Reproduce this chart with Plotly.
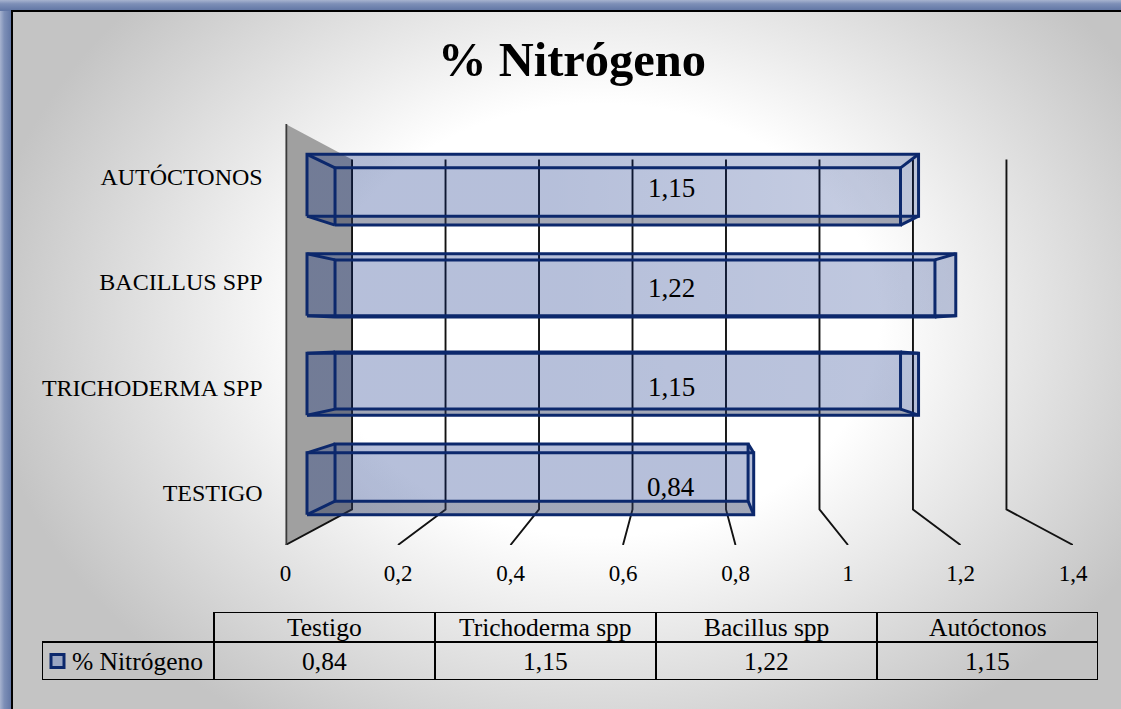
import base64
import plotly.graph_objects as go

# ---------------- data ----------------
treatments = ["Testigo", "Trichoderma spp", "Bacillus spp", "Autóctonos"]
nitrogen_pct = [0.84, 1.15, 1.22, 1.15]
series_name = "% Nitrógeno"
value_ticks = [0, 0.2, 0.4, 0.6, 0.8, 1.0, 1.2, 1.4]

# ---------------- layout constants ----------------
W, H = 1121, 709
FONT = "Liberation Serif, Times New Roman, serif"
NAVY = "#0c286c"

# front plane of the 3-D box (pixels) -> value axis 0..1.4, category band
FRONT_X = (285.5, 1073.0)
FRONT_Y = (124.0, 545.0)
VMAX = 1.4
N = len(treatments)

# perspective: vanishing point (data units) and depth scale factors
V_VP, C_VP = 0.70, (N - 1) / 2
K_BACK = 0.831          # back wall
S_BAR_FRONT = 0.9454    # front face of bars
S_BAR_BACK = 0.8742     # rear face of bars
HALF = 0.311            # half bar thickness (category units)


def proj(v, c, s):
    """Project a point at depth factor s onto the front plane axes."""
    return V_VP + (v - V_VP) * s, C_VP + (c - C_VP) * s


def fmt_val(v):
    return f"{v:.2f}".replace(".", ",")


def fmt_tick(v):
    return f"{v:g}".replace(".", ",")


fig = go.Figure()


def poly(pts, fill, gradient=None, xa="x", ya="y"):
    xs = [p[0] for p in pts] + [pts[0][0]]
    ys = [p[1] for p in pts] + [pts[0][1]]
    kw = {}
    if gradient is not None:
        kw["fillgradient"] = gradient
    fig.add_trace(go.Scatter(
        x=xs, y=ys, mode="lines", fill="toself", fillcolor=fill,
        line=dict(color="rgba(0,0,0,0)", width=0),
        hoverinfo="skip", showlegend=False, xaxis=xa, yaxis=ya, **kw))


def path(pts, color, width, xa="x", ya="y"):
    fig.add_trace(go.Scatter(
        x=[p[0] if p else None for p in pts],
        y=[p[1] if p else None for p in pts],
        mode="lines", line=dict(color=color, width=width),
        hoverinfo="skip", showlegend=False, xaxis=xa, yaxis=ya,
        connectgaps=False))


c_lo, c_hi = -0.5, N - 0.5

# ---- side wall (value 0 plane) ----
poly([proj(0, c_lo, 1), proj(0, c_hi, 1), proj(0, c_hi, K_BACK), proj(0, c_lo, K_BACK)],
     "#a0a0a0")

# ---- gridlines: up the back wall, then across the floor to the front ----
grid_pts = []
for v in value_ticks:
    grid_pts += [proj(v, c_hi, K_BACK), proj(v, c_lo, K_BACK), proj(v, c_lo, 1), None]
path(grid_pts, "#121212", 1.9)

# thick front edge of the side wall
path([proj(0, c_lo, 1), proj(0, c_hi, 1)], "#3a3a3a", 3.5)

# ---- 3-D bars ----
RGB = "0,35,125"
ALPHA = 0.155
FACE = f"rgba({RGB},{ALPHA})"
UNDER = "rgba(70,70,80,0.34)"
for i, val in enumerate(nitrogen_pct):
    lo, hi = i - HALF, i + HALF
    sb, sf = S_BAR_BACK, S_BAR_FRONT
    back = [proj(0, lo, sb), proj(val, lo, sb), proj(val, hi, sb), proj(0, hi, sb)]
    front = [proj(0, lo, sf), proj(val, lo, sf), proj(val, hi, sf), proj(0, hi, sf)]
    bottom = [proj(0, lo, sb), proj(val, lo, sb), proj(val, lo, sf), proj(0, lo, sf)]
    top = [proj(0, hi, sb), proj(val, hi, sb), proj(val, hi, sf), proj(0, hi, sf)]
    left = [proj(0, lo, sb), proj(0, hi, sb), proj(0, hi, sf), proj(0, lo, sf)]
    right = [proj(val, lo, sb), proj(val, hi, sb), proj(val, hi, sf), proj(val, lo, sf)]
    poly(back, FACE)
    poly(bottom, UNDER)
    poly(top, FACE)
    poly(left, FACE)
    poly(right, FACE)
    # front face catches more light the higher the bar sits (light from upper right)
    fade = ALPHA * (1 - 0.18 * i)
    shade = dict(type="horizontal", start=front[0][0], stop=front[1][0],
                 colorscale=[[0, FACE], [0.4, FACE], [1, f"rgba({RGB},{fade:.3f})"]])
    poly(front, FACE, gradient=shade)
    edges = []
    for face in (back, front):
        edges += face + [face[0], None]
    for k in range(4):
        edges += [back[k], front[k], None]
    path(edges, NAVY, 3.0)

    lx, ly = proj(V_VP, i, S_BAR_FRONT)
    fig.add_annotation(x=lx - 0.014, y=ly, xref="x", yref="y", text=fmt_val(val),
                       yshift=-3, showarrow=False,
                       font=dict(family=FONT, size=27, color="black"))

# ---- data table below the chart ----
LW = 172 / 221          # width of the legend column relative to a data column
HR = 30 / 38            # header row height relative to the value row
tbl = []
tbl += [(-LW, 0), (N, 0), None, (-LW, 1), (N, 1), None, (0, 1 + HR), (N, 1 + HR), None]
tbl += [(-LW, 0), (-LW, 1), None]
for j in range(N + 1):
    tbl += [(j, 0), (j, 1 + HR), None]
path(tbl, "black", 2, xa="x2", ya="y2")

TFONT = dict(family=FONT, size=25.5, color="black")
for j, (name, val) in enumerate(zip(treatments, nitrogen_pct)):
    fig.add_annotation(x=j + 0.5, y=1 + HR / 2, xref="x2", yref="y2", text=name,
                       showarrow=False, font=TFONT)
    fig.add_annotation(x=j + 0.5, y=0.5, xref="x2", yref="y2", text=fmt_val(val),
                       showarrow=False, font=TFONT)

# legend key + series name
fig.add_trace(go.Scatter(
    x=[-LW + 15.5 / 221], y=[0.5], mode="markers", xaxis="x2", yaxis="y2",
    marker=dict(symbol="square", size=13, color="#9aa6c2", line=dict(color=NAVY, width=3)),
    hoverinfo="skip", showlegend=False))
fig.add_annotation(x=-LW + 28 / 221, y=0.5, xref="x2", yref="y2", text=series_name,
                   xanchor="left", showarrow=False, font=TFONT)

# ---- title ----
fig.add_annotation(x=572 / W, y=1 - 60 / H, xref="paper", yref="paper",
                   xanchor="center", yanchor="middle",
                   text=f"<b>{series_name}</b>", showarrow=False,
                   font=dict(family=FONT, size=48.5, color="black"))

# ---- background: framed panel with soft radial shading ----
svg = f"""<svg xmlns='http://www.w3.org/2000/svg' width='{W}' height='{H}' viewBox='0 0 {W} {H}' preserveAspectRatio='none'>
<defs>
<radialGradient id='g' gradientUnits='userSpaceOnUse' cx='0' cy='0' r='1'
 gradientTransform='translate(600 320) scale(620 480)'>
<stop offset='0' stop-color='#ffffff'/><stop offset='0.45' stop-color='#ffffff'/>
<stop offset='1' stop-color='#c4c4c4'/></radialGradient>
<linearGradient id='bl' x1='0' y1='0' x2='1' y2='0'>
<stop offset='0' stop-color='#a7b3cf'/><stop offset='0.35' stop-color='#7d8fb7'/>
<stop offset='1' stop-color='#5f74a3'/></linearGradient>
<linearGradient id='bt' x1='0' y1='0' x2='0' y2='1'>
<stop offset='0' stop-color='#a7b3cf'/><stop offset='0.35' stop-color='#7d8fb7'/>
<stop offset='1' stop-color='#5f74a3'/></linearGradient>
</defs>
<rect x='0' y='0' width='{W}' height='{H}' fill='#c8c8c8'/>
<rect x='0' y='0' width='12' height='{H}' fill='url(#bl)'/>
<rect x='0' y='0' width='{W}' height='11' fill='url(#bt)'/>
<rect x='12' y='11' width='{W + 20}' height='{H + 20}' fill='url(#g)' stroke='#000' stroke-width='2'/>
</svg>"""
src = "data:image/svg+xml;base64," + base64.b64encode(svg.encode("utf-8")).decode("ascii")

fig.update_layout(
    width=W, height=H, autosize=False, margin=dict(l=0, r=0, t=0, b=0, pad=0),
    paper_bgcolor="#c8c8c8", plot_bgcolor="rgba(0,0,0,0)",
    showlegend=False,
    images=[dict(source=src, xref="paper", yref="paper", x=0, y=1, sizex=1, sizey=1,
                 sizing="stretch", xanchor="left", yanchor="top", layer="below")],
    xaxis=dict(domain=[FRONT_X[0] / W, FRONT_X[1] / W], range=[0, VMAX], anchor="y",
               tickvals=value_ticks, ticktext=[fmt_tick(v) for v in value_ticks],
               showgrid=False, zeroline=False, showline=False, automargin=False,
               ticks="outside", ticklen=7, tickcolor="rgba(0,0,0,0)",
               tickfont=dict(family=FONT, size=23, color="black"), fixedrange=True),
    yaxis=dict(domain=[(H - FRONT_Y[1]) / H, (H - FRONT_Y[0]) / H], range=[c_lo, c_hi],
               anchor="x", tickvals=list(range(N)), ticktext=[t.upper() for t in treatments],
               showgrid=False, zeroline=False, showline=False, automargin=False,
               ticks="outside", ticklen=17, tickcolor="rgba(0,0,0,0)",
               tickfont=dict(family=FONT, size=24, color="black"), fixedrange=True),
    xaxis2=dict(domain=[42 / W, 1098 / W], range=[-LW, N], anchor="y2", visible=False,
                fixedrange=True),
    yaxis2=dict(domain=[(H - 680) / H, (H - 612) / H], range=[0, 1 + HR], anchor="x2",
                visible=False, fixedrange=True),
)

fig.write_html("out.html", config={"displayModeBar": False, "responsive": False})
